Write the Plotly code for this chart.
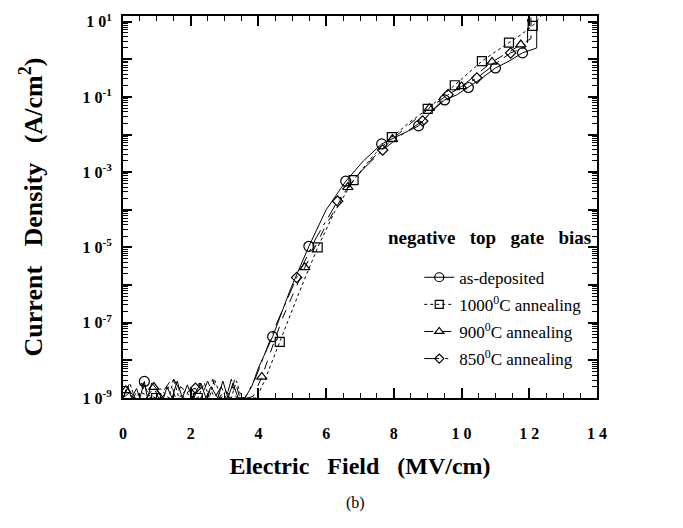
import plotly.graph_objects as go

# ---------------- data (E in MV/cm, current density as log10 exponent) ----------------
asdep_E = [0.0, 0.15, 0.25, 0.4, 0.5, 0.63, 0.72, 0.85, 1.2, 1.3, 1.45, 1.6, 1.75, 1.9, 2.05, 2.3, 2.45,
           2.6, 2.8, 2.95, 3.1, 3.25, 3.4, 3.6, 3.8, 4.0, 4.42, 4.95, 5.49, 6.0, 6.58, 7.1, 7.64, 8.2,
           8.73, 9.1, 9.5, 9.85, 10.2, 10.6, 11.0, 11.4, 11.8, 12.22, 12.22]
asdep_logJ = [-9.0, -8.7, -9.0, -8.75, -9.0, -8.56, -9.0, -8.6, -9.0, -8.7, -9.0, -8.55, -9.0, -8.65, -9.0,
              -8.6, -9.0, -8.7, -9.0, -8.55, -9.0, -8.6, -9.0, -9.0, -8.7, -8.2, -7.37, -6.1, -4.97, -4.0,
              -3.24, -2.7, -2.25, -2.0, -1.77, -1.4, -1.08, -0.95, -0.75, -0.5, -0.23, -0.05, 0.17, 0.3, 1.15]
asdep_mE = [0.63, 4.42, 5.49, 6.58, 7.64, 8.73, 9.5, 10.2, 11.0, 11.8]
asdep_mJ = [-8.56, -7.37, -4.97, -3.24, -2.25, -1.77, -1.08, -0.75, -0.23, 0.17]

a1000_E = [0.0, 0.2, 0.35, 0.5, 0.98, 1.1, 1.35, 1.5, 1.65, 1.85, 2.0, 2.21, 2.4, 2.55, 2.7, 2.9, 3.05,
           3.2, 3.35, 3.5, 3.75, 3.95, 4.2, 4.63, 5.2, 5.75, 6.25, 6.81, 7.4, 7.94, 8.5, 9.0, 9.4, 9.8,
           10.2, 10.6, 11.0, 11.4, 11.75, 12.1, 12.35]
a1000_logJ = [-9.0, -8.6, -9.0, -8.85, -9.0, -8.75, -9.0, -8.5, -9.0, -8.8, -9.0, -9.0, -8.6, -9.0, -8.5,
              -9.0, -8.8, -9.0, -8.55, -9.0, -9.0, -9.0, -8.5, -7.51, -6.2, -5.0, -4.05, -3.21, -2.55,
              -2.07, -1.65, -1.32, -1.0, -0.69, -0.35, -0.05, 0.2, 0.44, 0.65, 0.89, 1.15]
a1000_mE = [0.98, 2.21, 4.63, 5.75, 6.81, 7.94, 9.0, 9.8, 10.6, 11.4, 12.1]
a1000_mJ = [-9.0, -9.0, -7.51, -5.0, -3.21, -2.07, -1.32, -0.69, -0.05, 0.44, 0.89]

a900_E = [0.0, 0.1, 0.3, 0.55, 0.7, 0.91, 1.05, 1.4, 1.55, 1.7, 2.1, 2.25, 2.5, 2.65, 2.85, 3.0, 3.15,
          3.3, 3.45, 3.7, 3.85, 4.1, 4.7, 5.37, 6.0, 6.64, 7.3, 7.96, 8.5, 9.05, 9.5, 10.0, 10.45, 10.9,
          11.35, 11.75, 12.05, 12.05]
a900_logJ = [-9.0, -8.75, -9.0, -8.6, -9.0, -8.71, -9.0, -8.55, -9.0, -8.7, -9.0, -8.6, -9.0, -8.5, -9.0,
             -8.75, -9.0, -8.5, -9.0, -9.0, -8.95, -8.44, -6.9, -5.53, -4.4, -3.4, -2.7, -2.12, -1.7,
             -1.3, -1.0, -0.72, -0.4, -0.07, 0.17, 0.39, 0.55, 1.15]
a900_mE = [0.08, 0.91, 4.1, 5.37, 6.64, 7.96, 9.05, 10.0, 10.9, 11.75]
a900_mJ = [-8.8, -8.71, -8.44, -5.53, -3.4, -2.12, -1.3, -0.72, -0.07, 0.39]

a850_E = [0.0, 0.2, 0.45, 0.6, 0.8, 1.0, 1.15, 1.5, 1.8, 1.95, 2.14, 2.3, 2.5, 2.7, 2.9, 3.05, 3.2, 3.35,
          3.6, 3.9, 4.5, 5.13, 5.7, 6.34, 7.0, 7.67, 8.25, 8.85, 9.2, 9.6, 10.0, 10.45, 10.95, 11.45,
          11.95, 11.95]
a850_logJ = [-9.0, -8.85, -9.0, -8.6, -9.0, -8.8, -9.0, -8.5, -9.0, -8.8, -8.74, -9.0, -8.55, -9.0, -8.7,
             -9.0, -8.5, -9.0, -9.0, -8.5, -7.1, -5.8, -4.75, -3.77, -3.0, -2.41, -2.0, -1.64, -1.3,
             -0.94, -0.72, -0.5, -0.15, 0.17, 0.35, 1.15]
a850_mE = [2.14, 5.13, 6.34, 7.67, 8.85, 9.6, 10.45, 11.45]
a850_mJ = [-8.74, -5.8, -3.77, -2.41, -1.64, -0.94, -0.5, 0.17]

series = [
    ("as-deposited", asdep_E, asdep_logJ, asdep_mE, asdep_mJ, "solid", "circle-open", 10),
    ("1000<sup>0</sup>C annealing", a1000_E, a1000_logJ, a1000_mE, a1000_mJ, "dot", "square-open", 9),
    ("900<sup>0</sup>C annealing", a900_E, a900_logJ, a900_mE, a900_mJ, "dash", "triangle-up-open", 9),
    ("850<sup>0</sup>C annealing", a850_E, a850_logJ, a850_mE, a850_mJ, "longdashdot", "diamond-open", 8),
]

y_exps = list(range(-9, 2))
y_ticktext = [("1 0<sup>%d</sup>" % k) if k % 2 else "" for k in y_exps]
x_tickvals = [0, 2, 4, 6, 8, 10, 12, 14]
x_ticktext = ["0", "2", "4", "6", "8", "1 0", "1 2", "1 4"]

# ---------------- figure ----------------
fig = go.Figure()
for i, (name, E, LJ, mE, mJ, dash, sym, ms) in enumerate(series):
    fig.add_trace(go.Scatter(x=E, y=[10 ** v for v in LJ], mode="lines",
                             line=dict(color="black", width=1, dash=dash),
                             showlegend=False, hoverinfo="skip"))
    fig.add_trace(go.Scatter(x=mE, y=[10 ** v for v in mJ], mode="markers",
                             marker=dict(symbol=sym, size=ms, color="black", line=dict(width=1.2)),
                             showlegend=False))
    fig.add_trace(go.Scatter(x=[None], y=[None], mode="lines+markers", name=name,
                             legendgroup="g%d" % i,
                             line=dict(color="black", width=1, dash=dash),
                             marker=dict(symbol=sym, size=ms - 1, color="black", line=dict(width=1.2))))

serif = "Liberation Serif, Times New Roman, serif"
NB = "\u00a0"
fig.update_layout(
    width=683, height=528,
    margin=dict(l=123, r=86, t=16, b=130),
    paper_bgcolor="white", plot_bgcolor="white",
    showlegend=True,
    legend=dict(x=0.625, y=0.362, xanchor="left", yanchor="top",
                font=dict(family=serif, size=17, color="black"),
                bgcolor="rgba(0,0,0,0)", tracegroupgap=2, traceorder="grouped",
                itemwidth=30),
    font=dict(family=serif, color="black"),
)

fig.update_xaxes(
    range=[0, 14], showline=True, linecolor="black", linewidth=2, mirror="ticks",
    tickmode="array", tickvals=x_tickvals, ticktext=x_ticktext,
    ticks="inside", ticklen=10, tickwidth=1.5, tickcolor="black",
    minor=dict(ticks="inside", ticklen=5, tickwidth=1.2, tickcolor="black", dtick=0.5, tick0=0),
    showgrid=False, zeroline=False,
    tickfont=dict(family=serif, size=16, color="black", weight="bold"),
    ticklabelstandoff=20,
    title=dict(text="Electric" + NB * 3 + "Field" + NB * 3 + "(MV/cm)", standoff=16,
               font=dict(family=serif, size=24, color="black", weight="bold")),
)

minor_vals = [m * 10 ** k for k in range(-9, 2) for m in range(2, 10)]
fig.update_yaxes(
    type="log", range=[-9, 1.15], showline=True, linecolor="black", linewidth=2, mirror="ticks",
    tickmode="array", tickvals=[10 ** k for k in y_exps], ticktext=y_ticktext,
    ticks="inside", ticklen=9, tickwidth=1.5, tickcolor="black",
    minor=dict(ticks="inside", ticklen=5, tickwidth=1, tickcolor="black",
               tickmode="array", tickvals=minor_vals),
    showgrid=False, zeroline=False,
    tickfont=dict(family=serif, size=16, color="black", weight="bold"),
    ticklabelstandoff=6,
    title=dict(text="Current" + NB * 3 + "Density" + NB * 3 + "(A/cm<sup>2</sup>)", standoff=32,
               font=dict(family=serif, size=26, color="black", weight="bold")),
)

fig.add_annotation(text="negative" + NB * 3 + "top" + NB * 3 + "gate" + NB * 3 + "bias",
                   xref="paper", yref="paper",
                   x=0.555, y=0.42, xanchor="left", yanchor="middle", showarrow=False,
                   font=dict(family=serif, size=19, color="black", weight="bold"))
fig.add_annotation(text="(b)", xref="paper", yref="paper", x=0.49, y=-0.275,
                   xanchor="center", yanchor="middle", showarrow=False,
                   font=dict(family=serif, size=16, color="black"))

fig.write_html("out.html")
